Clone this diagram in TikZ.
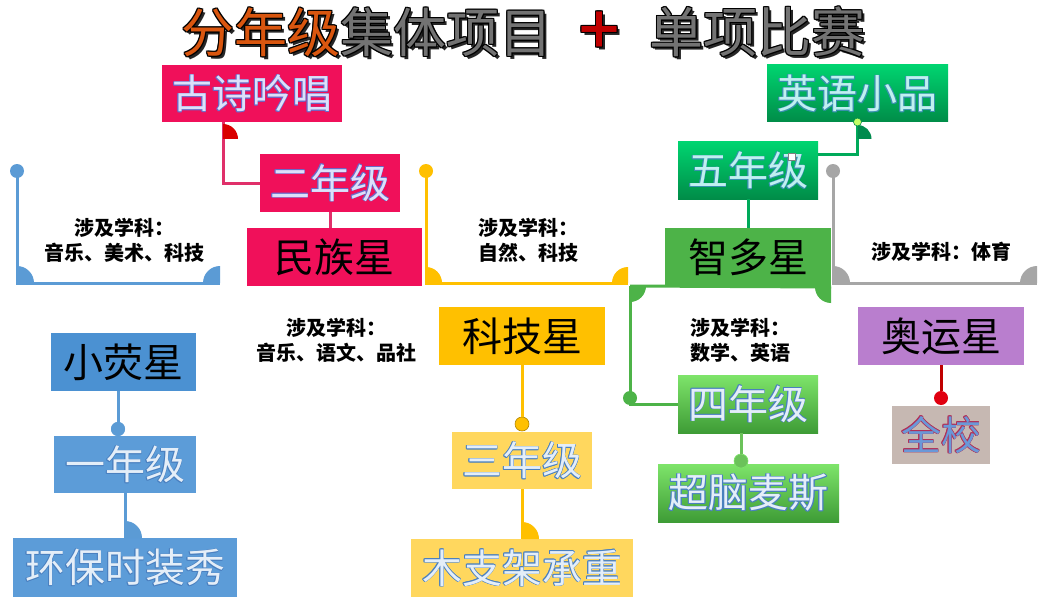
\documentclass[tikz,border=0pt]{standalone}
\usepackage{fontspec}
\setmainfont{Noto Sans CJK SC}
\definecolor{pinkbox}{HTML}{F0105A}
\definecolor{pinkline}{HTML}{E0306A}
\definecolor{bluebox}{HTML}{4B91D2}
\definecolor{bluetex}{HTML}{5C9CD8}
\definecolor{blueline}{HTML}{5B9BD5}
\definecolor{yel}{HTML}{FFC000}
\definecolor{yellight}{HTML}{FFD75E}
\definecolor{grn}{HTML}{4DB348}
\definecolor{grnA}{HTML}{00D470}
\definecolor{grnB}{HTML}{008C48}
\definecolor{grnC}{HTML}{7EE46A}
\definecolor{grnD}{HTML}{3E9C36}
\definecolor{gry}{HTML}{A6A6A6}
\definecolor{purp}{HTML}{B97ECE}
\definecolor{redl}{HTML}{C00000}
\definecolor{reddot}{HTML}{E00010}
\definecolor{texbox}{HTML}{C6B8B2}
\definecolor{titleor}{HTML}{D9560F}
\definecolor{plusred}{HTML}{C00000}
\definecolor{pinkfill}{HTML}{DCE0FA}
\definecolor{pinkout}{HTML}{6A6AC8}
\definecolor{cyanfill}{HTML}{C0F0F0}
\definecolor{cyanout}{HTML}{3A90B0}
\definecolor{palefill}{HTML}{E4EEF8}
\definecolor{paleout}{HTML}{4A80C0}
\definecolor{qfill}{HTML}{6A98D8}
\definecolor{qout}{HTML}{B03058}

\newcommand\olt[4]{%
\rlap{\hspace{#1pt}\textcolor{#2}{#4}}%
\rlap{\hspace{-#1pt}\textcolor{#2}{#4}}%
\rlap{\raisebox{#1pt}{\textcolor{#2}{#4}}}%
\rlap{\raisebox{-#1pt}{\textcolor{#2}{#4}}}%
\rlap{\hspace{#1pt}\raisebox{#1pt}{\textcolor{#2}{#4}}}%
\rlap{\hspace{-#1pt}\raisebox{#1pt}{\textcolor{#2}{#4}}}%
\rlap{\hspace{#1pt}\raisebox{-#1pt}{\textcolor{#2}{#4}}}%
\rlap{\hspace{-#1pt}\raisebox{-#1pt}{\textcolor{#2}{#4}}}%
\textcolor{#3}{#4}}
\newcommand\ttlx[2]{%
\rlap{\hspace{3pt}\raisebox{-3pt}{\textcolor{black!85}{#2}}}%
\rlap{\hspace{1.5pt}\raisebox{-1.5pt}{\textcolor{black!85}{#2}}}%
\olt{1}{black}{#1}{#2}}
\newcommand\qpie[4]{\fill[#1] (#2) -- ++(#3:#4pt) arc[start angle=#3, end angle=#3+90, radius=#4pt] -- cycle;}

\tikzset{
  box/.style={inner sep=0pt, outer sep=0pt, font=\fontsize{40}{44}\selectfont},
  conn/.style={line width=3pt},
  dotc/.style={circle, inner sep=0pt, minimum size=14pt},
  note/.style={font=\bfseries\fontsize{20}{25}\selectfont, align=center, inner sep=0pt},
  gA/.style={top color=grnA, bottom color=grnB},
  gB/.style={top color=grnC, bottom color=grnD},
}

\begin{document}
\begin{tikzpicture}[x=1pt,y=-1pt]
\fill[white] (0,0) rectangle (1052,607);
\useasboundingbox (0,0) rectangle (1052,607);

% title
\node[anchor=west, inner sep=0pt, font=\fontsize{53}{60}\selectfont] (title1) at (181,33)
  {\ttlx{titleor}{分年级}\ttlx{black!55}{集体项目}};
\node[inner sep=0pt, font=\bfseries\fontsize{50}{60}\selectfont] (plus) at (599,31)
  {\ttlx{plusred}{＋}};
\node[anchor=west, inner sep=0pt, font=\fontsize{54}{60}\selectfont] (title2) at (649,33)
  {\ttlx{black!55}{单项比赛}};

% boxes
\node[box, fill=pinkbox, minimum width=180pt, minimum height=57pt] (gushi) at (252,93.5) {\olt{0.7}{pinkout}{pinkfill}{古诗吟唱}};
\node[box, fill=pinkbox, minimum width=140pt, minimum height=58pt] (er) at (330,183) {\olt{0.7}{pinkout}{pinkfill}{二年级}};
\node[box, fill=pinkbox, minimum width=175pt, minimum height=58pt] (minzu) at (334.5,257) {民族星};

\node[box, fill=bluebox, minimum width=145pt, minimum height=58pt] (xiaoying) at (123.5,362) {小荧星};
\node[box, fill=bluetex, minimum width=142pt, minimum height=57pt] (yi) at (125,464.5) {\olt{0.6}{paleout}{palefill}{一年级}};
\node[box, fill=bluetex, minimum width=224pt, minimum height=59pt] (huanbao) at (125,567.5) {\olt{0.6}{paleout}{palefill}{环保时装秀}};

\node[box, fill=yel, minimum width=166pt, minimum height=58pt] (keji) at (522,336) {科技星};
\node[box, fill=yellight, minimum width=140pt, minimum height=57pt] (san) at (522,460.5) {\olt{0.6}{paleout}{palefill}{三年级}};
\node[box, fill=yellight, minimum width=222pt, minimum height=58pt] (muzhi) at (522,568) {\olt{0.6}{paleout}{palefill}{木支架承重}};

\node[box, fill=grn, minimum width=166pt, minimum height=59pt] (zhiduo) at (748,257.5) {智多星};
\node[box, gA, minimum width=140pt, minimum height=57pt] (wu) at (748,170.5) {\olt{0.6}{cyanout}{cyanfill}{五年级}};
\node[box, gA, minimum width=181pt, minimum height=57pt] (yingyu) at (857.5,93.5) {\olt{0.6}{cyanout}{cyanfill}{英语小品}};
\node[box, gB, minimum width=140pt, minimum height=58pt] (si) at (748,404) {\olt{0.6}{paleout}{palefill}{四年级}};
\node[box, gB, minimum width=181pt, minimum height=58pt] (chaonao) at (748.5,493) {\olt{0.6}{paleout}{palefill}{超脑麦斯}};

\node[box, fill=purp, minimum width=166pt, minimum height=58pt] (aoyun) at (941,336) {奥运星};
\node[box, fill=texbox, minimum width=98pt, minimum height=58pt] (quanxiao) at (941,435) {\olt{0.5}{qout}{qfill}{全校}};

% pink connectors
\draw[conn, pinkline] ([xshift=-29pt]gushi.south) |- (er.west);
\coordinate (pk) at ([xshift=-29pt]gushi.south);
\qpie{red!85!black}{[yshift=-17pt]pk}{0}{15}
\draw[conn, pinkline] (er.south) -- (er.south |- minzu.north);

% green (five) connectors
\draw[conn, grnA!80!black] (wu.south) -- (wu.south |- zhiduo.north);
\draw[conn, grnA!80!black] ([yshift=15.5pt]wu.east) -| (yingyu.south);
\qpie{grnB!90!teal}{[yshift=-17pt]yingyu.south}{0}{14}
\node[circle, inner sep=0pt, minimum size=8pt, fill=green!40!yellow!60, draw=grnB, line width=0.6pt] (ydot) at (yingyu.south) {};
\node[draw=gray, fill=white, inner sep=0pt, minimum size=7pt, line width=0.6pt] (handle) at (792,157) {};

% blue chain
\node[dotc, fill=blueline] (d1) at (118,429) {};
\draw[conn, blueline] (d1.center |- xiaoying.south) -- (d1.center);
\node[dotc, fill=blueline] at (d1) {};
\draw[conn, blueline] (yi.south) -- (yi.south |- huanbao.north);
\qpie{blueline}{yi.south |- huanbao.north}{0}{17}

% yellow chain
\node[dotc, fill=yel, draw=yel!70!black, line width=0.6pt] (d3) at (522,424) {};
\draw[conn, yel] (keji.south) -- (d3.north);
\draw[conn, yel] (san.south) -- (san.south |- muzhi.north);
\qpie{yel}{san.south |- muzhi.north}{0}{17}

% green four chain
\node[dotc, fill=grnC!85!black, draw=grnC, line width=0.6pt] (d5) at (741,461) {};
\draw[conn, grnC!85!black] (d5.center |- si.south) -- (d5.north);

% red chain
\node[dotc, fill=reddot] (d6) at (941,398) {};
\draw[conn, redl] (aoyun.south) -- (d6.north);

% green bracket under 智多星
\coordinate (gL) at (630,286);
\coordinate (gR) at (zhiduo.south east);
\draw[conn, grn] (gL) -- (gR);
\qpie{grn}{gL}{270}{16}
\qpie{grn}{gR}{180}{16}
\draw[conn, grn] (gL) |- (si.west);
\node[dotc, fill=grn] (d7) at (630,398) {};

% blue bracket
\node[dotc, fill=blueline] (b1) at (17,171) {};
\coordinate (b1c) at (17,283);
\coordinate (b1r) at (220,283);
\draw[conn, blueline] (b1.center) |- (b1r);
\qpie{blueline}{b1c}{0}{17}
\qpie{blueline}{b1r}{90}{17}

% yellow bracket
\node[dotc, fill=yel] (b2) at (426,171) {};
\coordinate (b2c) at (426,283);
\coordinate (b2r) at (628,283);
\draw[conn, yel] (b2.center) |- (b2r);
\qpie{yel}{b2c}{0}{16}
\qpie{yel}{b2r}{90}{16}

% grey bracket
\node[dotc, fill=gry] (b3) at (833,171) {};
\coordinate (b3c) at (833,283);
\coordinate (b3r) at (1037,283);
\draw[conn, gry] (b3.center) |- (b3r);
\qpie{gry}{b3c}{0}{17}
\qpie{gry}{b3r}{90}{17}

% notes
\node[note] (n1) at (124,240) {涉及学科：\\音乐、美术、科技};
\node[note] (n2) at (528,240) {涉及学科：\\自然、科技};
\node[note] (n3) at (941,252) {涉及学科：体育};
\node[note] (n4) at (336,340) {涉及学科：\\音乐、语文、品社};
\node[note] (n5) at (740,340) {涉及学科：\\数学、英语};
\end{tikzpicture}
\end{document}
